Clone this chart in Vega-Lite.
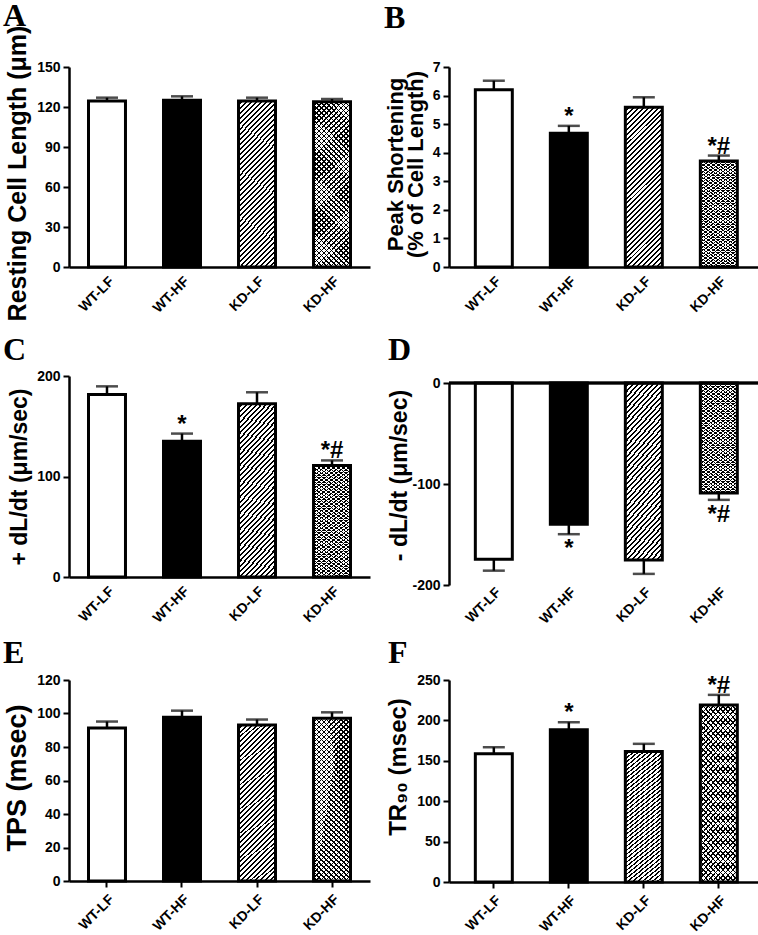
{
"$schema": "https://vega.github.io/schema/vega-lite/v6.json",
"background": "white",
"padding": {"left": 2, "top": 0, "right": 0, "bottom": 0},
"columns": 2,
"spacing": {"row": 95, "column": 79},
"bounds": "flush",
"datasets": {
"A": [{"group":"WT-LF","mean":124.5,"hi":127,"sig":""},{"group":"WT-HF","mean":125,"hi":128,"sig":""},{"group":"KD-LF","mean":124.5,"hi":127,"sig":""},{"group":"KD-HF","mean":124,"hi":126,"sig":""}],
"B": [{"group":"WT-LF","mean":6.2,"hi":6.52,"sig":""},{"group":"WT-HF","mean":4.68,"hi":4.94,"sig":"*"},{"group":"KD-LF","mean":5.59,"hi":5.94,"sig":""},{"group":"KD-HF","mean":3.71,"hi":3.9,"sig":"*#"}],
"C": [{"group":"WT-LF","mean":181.5,"hi":189.7,"sig":""},{"group":"WT-HF","mean":135,"hi":142.7,"sig":"*"},{"group":"KD-LF","mean":172.5,"hi":183.8,"sig":""},{"group":"KD-HF","mean":111,"hi":116,"sig":"*#"}],
"D": [{"group":"WT-LF","mean":-174.5,"hi":-185.8,"sig":""},{"group":"WT-HF","mean":-139.8,"hi":-149.7,"sig":"*"},{"group":"KD-LF","mean":-175.2,"hi":-189,"sig":""},{"group":"KD-HF","mean":-109,"hi":-115.7,"sig":"*#"}],
"E": [{"group":"WT-LF","mean":91.4,"hi":95.2,"sig":""},{"group":"WT-HF","mean":97.8,"hi":101.7,"sig":""},{"group":"KD-LF","mean":93.2,"hi":96.4,"sig":""},{"group":"KD-HF","mean":97.2,"hi":100.7,"sig":""}],
"F": [{"group":"WT-LF","mean":158.7,"hi":166.8,"sig":""},{"group":"WT-HF","mean":188.3,"hi":197.7,"sig":"*"},{"group":"KD-LF","mean":161.5,"hi":171,"sig":""},{"group":"KD-HF","mean":219.2,"hi":231.6,"sig":"*#"}]
},
"concat": [
{
"width": 301, "height": 200, "data": {"name": "A"},
"title": {"text": "A", "anchor": "start", "frame": "group", "dx": -66, "offset": -33, "baseline": "alphabetic", "font": "Liberation Serif", "fontSize": 32, "fontWeight": "bold", "color": "#000"},
"encoding": {
"x": {"field": "group", "type": "nominal", "scale": {"domain": ["WT-LF","WT-HF","KD-LF","KD-HF"], "paddingInner": 0.507, "paddingOuter": 0.26}, "axis": {"title": null, "ticks": false, "labelPadding": 7}},
"y": {"field": "mean", "type": "quantitative", "title": "Resting Cell Length (μm)", "scale": {"domain": [0,150], "nice": false}, "axis": {"values": [0,30,60,90,120,150], "titleX": -44, "titleY": 106, "titleFontSize": 25}}
},
"layer": [
{"mark": {"type": "bar", "strokeWidth": 0}, "encoding": {"fill": {"field": "group", "type": "nominal", "scale": {"domain": ["WT-LF","WT-HF","KD-LF","KD-HF"], "range": ["#ffffff","#000000","#ffffff","#ffffff"]}, "legend": null}}},
{"transform": [{"filter": "datum.group == 'KD-LF'"}], "mark": {"type": "bar", "style": "diag", "strokeWidth": 0}},
{"transform": [{"filter": "datum.group == 'KD-HF'"}], "mark": {"type": "bar", "style": "xa", "strokeWidth": 0}},
{"transform": [{"filter": "datum.group == 'KD-HF'"}], "mark": {"type": "bar", "style": "xb", "strokeWidth": 0}},
{"mark": {"type": "bar", "fillOpacity": 0, "stroke": "#000000", "strokeWidth": 3}},
{"mark": {"type": "rule", "strokeWidth": 2.5, "color": "#000000"}, "encoding": {"y2": {"field": "hi"}}},
{"mark": {"type": "tick", "size": 22, "thickness": 2.5, "color": "#000000"}, "encoding": {"y": {"field": "hi", "type": "quantitative", "title": "Resting Cell Length (μm)"}}},
{"transform": [{"filter": "datum.sig != ''"}], "mark": {"type": "text", "baseline": "top", "dy": -21, "fontSize": 24, "fontWeight": "bold", "color": "#000000"}, "encoding": {"y": {"field": "hi", "type": "quantitative", "title": "Resting Cell Length (μm)"}, "text": {"field": "sig"}}}
]
},
{
"width": 309, "height": 200, "data": {"name": "B"},
"title": {"text": "B", "anchor": "start", "frame": "group", "dx": -65, "offset": 0, "baseline": "alphabetic", "font": "Liberation Serif", "fontSize": 32, "fontWeight": "bold", "color": "#000"},
"encoding": {
"x": {"field": "group", "type": "nominal", "scale": {"domain": ["WT-LF","WT-HF","KD-LF","KD-HF"], "paddingInner": 0.507, "paddingOuter": 0.3135, "align": 0.56}, "axis": {"title": null, "ticks": false, "labelPadding": 7}},
"y": {"field": "mean", "type": "quantitative", "title": ["Peak Shortening", "(% of Cell Length)"], "scale": {"domain": [0,7], "nice": false}, "axis": {"values": [0,1,2,3,4,5,6,7], "titleX": -47, "titleY": 97, "titleFontSize": 22, "titleLineHeight": 20}}
},
"layer": [
{"mark": {"type": "bar", "strokeWidth": 0}, "encoding": {"fill": {"field": "group", "type": "nominal", "scale": {"domain": ["WT-LF","WT-HF","KD-LF","KD-HF"], "range": ["#ffffff","#000000","#ffffff","#ffffff"]}, "legend": null}}},
{"transform": [{"filter": "datum.group == 'KD-LF'"}], "mark": {"type": "bar", "style": "diag", "strokeWidth": 0}},
{"transform": [{"filter": "datum.group == 'KD-HF'"}], "mark": {"type": "bar", "style": "xa", "strokeWidth": 0}},
{"transform": [{"filter": "datum.group == 'KD-HF'"}], "mark": {"type": "bar", "style": "xb", "strokeWidth": 0}},
{"mark": {"type": "bar", "fillOpacity": 0, "stroke": "#000000", "strokeWidth": 3}},
{"mark": {"type": "rule", "strokeWidth": 2.5, "color": "#000000"}, "encoding": {"y2": {"field": "hi"}}},
{"mark": {"type": "tick", "size": 22, "thickness": 2.5, "color": "#000000"}, "encoding": {"y": {"field": "hi", "type": "quantitative", "title": ["Peak Shortening", "(% of Cell Length)"]}}},
{"transform": [{"filter": "datum.sig != ''"}], "mark": {"type": "text", "baseline": "top", "dy": -21, "fontSize": 24, "fontWeight": "bold", "color": "#000000"}, "encoding": {"y": {"field": "hi", "type": "quantitative", "title": ["Peak Shortening", "(% of Cell Length)"]}, "text": {"field": "sig"}}}
]
},
{
"width": 301, "height": 215, "data": {"name": "C"},
"title": {"text": "C", "anchor": "start", "frame": "group", "dx": -66, "offset": -30, "baseline": "alphabetic", "font": "Liberation Serif", "fontSize": 32, "fontWeight": "bold", "color": "#000"},
"encoding": {
"x": {"field": "group", "type": "nominal", "scale": {"domain": ["WT-LF","WT-HF","KD-LF","KD-HF"], "paddingInner": 0.507, "paddingOuter": 0.26}, "axis": {"title": null, "ticks": false, "labelPadding": 7}},
"y": {"field": "mean", "type": "quantitative", "title": "+ dL/dt (μm/sec)", "scale": {"domain": [0,200], "nice": false, "range": [215, 14]}, "axis": {"values": [0,100,200], "titleX": -43, "titleY": 114.5, "titleFontSize": 23}}
},
"layer": [
{"mark": {"type": "bar", "strokeWidth": 0}, "encoding": {"fill": {"field": "group", "type": "nominal", "scale": {"domain": ["WT-LF","WT-HF","KD-LF","KD-HF"], "range": ["#ffffff","#000000","#ffffff","#ffffff"]}, "legend": null}}},
{"transform": [{"filter": "datum.group == 'KD-LF'"}], "mark": {"type": "bar", "style": "diag", "strokeWidth": 0}},
{"transform": [{"filter": "datum.group == 'KD-HF'"}], "mark": {"type": "bar", "style": "xa", "strokeWidth": 0}},
{"transform": [{"filter": "datum.group == 'KD-HF'"}], "mark": {"type": "bar", "style": "xb", "strokeWidth": 0}},
{"mark": {"type": "bar", "fillOpacity": 0, "stroke": "#000000", "strokeWidth": 3}},
{"mark": {"type": "rule", "strokeWidth": 2.5, "color": "#000000"}, "encoding": {"y2": {"field": "hi"}}},
{"mark": {"type": "tick", "size": 22, "thickness": 2.5, "color": "#000000"}, "encoding": {"y": {"field": "hi", "type": "quantitative", "title": "+ dL/dt (μm/sec)"}}},
{"transform": [{"filter": "datum.sig != ''"}], "mark": {"type": "text", "baseline": "top", "dy": -21, "fontSize": 24, "fontWeight": "bold", "color": "#000000"}, "encoding": {"y": {"field": "hi", "type": "quantitative", "title": "+ dL/dt (μm/sec)"}, "text": {"field": "sig"}}}
]
},
{
"width": 309, "height": 223, "data": {"name": "D"},
"title": {"text": "D", "anchor": "start", "frame": "group", "dx": -61, "offset": -30, "baseline": "alphabetic", "font": "Liberation Serif", "fontSize": 32, "fontWeight": "bold", "color": "#000"},
"layer": [
{
"encoding": {
"x": {"field": "group", "type": "nominal", "scale": {"domain": ["WT-LF","WT-HF","KD-LF","KD-HF"], "paddingInner": 0.507, "paddingOuter": 0.3135, "align": 0.56}, "axis": {"title": null, "ticks": false, "domain": false, "labelPadding": 0}},
"y": {"field": "mean", "type": "quantitative", "title": "- dL/dt (μm/sec)", "scale": {"domain": [-200,0], "nice": false, "range": [223, 21]}, "axis": {"values": [0,-100,-200], "labelExpr": "'' + datum.value", "titleX": -43, "titleY": 113, "titleFontSize": 23}}
},
"layer": [
{"mark": {"type": "bar", "strokeWidth": 0}, "encoding": {"fill": {"field": "group", "type": "nominal", "scale": {"domain": ["WT-LF","WT-HF","KD-LF","KD-HF"], "range": ["#ffffff","#000000","#ffffff","#ffffff"]}, "legend": null}}},
{"transform": [{"filter": "datum.group == 'KD-LF'"}], "mark": {"type": "bar", "style": "diag", "strokeWidth": 0}},
{"transform": [{"filter": "datum.group == 'KD-HF'"}], "mark": {"type": "bar", "style": "xa", "strokeWidth": 0}},
{"transform": [{"filter": "datum.group == 'KD-HF'"}], "mark": {"type": "bar", "style": "xb", "strokeWidth": 0}},
{"mark": {"type": "bar", "fillOpacity": 0, "stroke": "#000000", "strokeWidth": 3}},
{"mark": {"type": "rule", "strokeWidth": 2.5, "color": "#000000"}, "encoding": {"y2": {"field": "hi"}}},
{"mark": {"type": "tick", "size": 22, "thickness": 2.5, "color": "#000000"}, "encoding": {"y": {"field": "hi", "type": "quantitative", "title": "- dL/dt (μm/sec)"}}},
{"transform": [{"filter": "datum.sig != ''"}], "mark": {"type": "text", "baseline": "top", "dy": 3, "fontSize": 24, "fontWeight": "bold", "color": "#000000"}, "encoding": {"y": {"field": "hi", "type": "quantitative", "title": "- dL/dt (μm/sec)"}, "text": {"field": "sig"}}}
]
},
{"mark": {"type": "rule", "strokeWidth": 2.5, "color": "#000000"}, "encoding": {"y": {"datum": 0, "type": "quantitative", "title": "- dL/dt (μm/sec)"}}}
]
},
{
"width": 301, "height": 201, "data": {"name": "E"},
"title": {"text": "E", "anchor": "start", "frame": "group", "dx": -66, "offset": -22, "baseline": "alphabetic", "font": "Liberation Serif", "fontSize": 32, "fontWeight": "bold", "color": "#000"},
"encoding": {
"x": {"field": "group", "type": "nominal", "scale": {"domain": ["WT-LF","WT-HF","KD-LF","KD-HF"], "paddingInner": 0.507, "paddingOuter": 0.26}, "axis": {"title": null, "ticks": true, "tickSize": 6, "labelPadding": 5}},
"y": {"field": "mean", "type": "quantitative", "title": "TPS (msec)", "scale": {"domain": [0,120], "nice": false}, "axis": {"values": [0,20,40,60,80,100,120], "titleX": -44, "titleY": 97.5, "titleFontSize": 27}}
},
"layer": [
{"mark": {"type": "bar", "strokeWidth": 0}, "encoding": {"fill": {"field": "group", "type": "nominal", "scale": {"domain": ["WT-LF","WT-HF","KD-LF","KD-HF"], "range": ["#ffffff","#000000","#ffffff","#ffffff"]}, "legend": null}}},
{"transform": [{"filter": "datum.group == 'KD-LF'"}], "mark": {"type": "bar", "style": "diag", "strokeWidth": 0}},
{"transform": [{"filter": "datum.group == 'KD-HF'"}], "mark": {"type": "bar", "style": "xa", "strokeWidth": 0}},
{"transform": [{"filter": "datum.group == 'KD-HF'"}], "mark": {"type": "bar", "style": "xb", "strokeWidth": 0}},
{"mark": {"type": "bar", "fillOpacity": 0, "stroke": "#000000", "strokeWidth": 3}},
{"mark": {"type": "rule", "strokeWidth": 2.5, "color": "#000000"}, "encoding": {"y2": {"field": "hi"}}},
{"mark": {"type": "tick", "size": 22, "thickness": 2.5, "color": "#000000"}, "encoding": {"y": {"field": "hi", "type": "quantitative", "title": "TPS (msec)"}}},
{"transform": [{"filter": "datum.sig != ''"}], "mark": {"type": "text", "baseline": "top", "dy": -21, "fontSize": 24, "fontWeight": "bold", "color": "#000000"}, "encoding": {"y": {"field": "hi", "type": "quantitative", "title": "TPS (msec)"}, "text": {"field": "sig"}}}
]
},
{
"width": 309, "height": 202, "data": {"name": "F"},
"title": {"text": "F", "anchor": "start", "frame": "group", "dx": -61, "offset": -22, "baseline": "alphabetic", "font": "Liberation Serif", "fontSize": 32, "fontWeight": "bold", "color": "#000"},
"encoding": {
"x": {"field": "group", "type": "nominal", "scale": {"domain": ["WT-LF","WT-HF","KD-LF","KD-HF"], "paddingInner": 0.507, "paddingOuter": 0.3135, "align": 0.56}, "axis": {"title": null, "ticks": true, "tickSize": 6, "labelPadding": 5}},
"y": {"field": "mean", "type": "quantitative", "title": "TR₉₀ (msec)", "scale": {"domain": [0,250], "nice": false}, "axis": {"values": [0,50,100,150,200,250], "titleX": -44, "titleY": 86.5, "titleFontSize": 24}}
},
"layer": [
{"mark": {"type": "bar", "strokeWidth": 0}, "encoding": {"fill": {"field": "group", "type": "nominal", "scale": {"domain": ["WT-LF","WT-HF","KD-LF","KD-HF"], "range": ["#ffffff","#000000","#ffffff","#ffffff"]}, "legend": null}}},
{"transform": [{"filter": "datum.group == 'KD-LF'"}], "mark": {"type": "bar", "style": "diag", "strokeWidth": 0}},
{"transform": [{"filter": "datum.group == 'KD-HF'"}], "mark": {"type": "bar", "style": "xa", "strokeWidth": 0}},
{"transform": [{"filter": "datum.group == 'KD-HF'"}], "mark": {"type": "bar", "style": "xb", "strokeWidth": 0}},
{"mark": {"type": "bar", "fillOpacity": 0, "stroke": "#000000", "strokeWidth": 3}},
{"mark": {"type": "rule", "strokeWidth": 2.5, "color": "#000000"}, "encoding": {"y2": {"field": "hi"}}},
{"mark": {"type": "tick", "size": 22, "thickness": 2.5, "color": "#000000"}, "encoding": {"y": {"field": "hi", "type": "quantitative", "title": "TR₉₀ (msec)"}}},
{"transform": [{"filter": "datum.sig != ''"}], "mark": {"type": "text", "baseline": "top", "dy": -21, "fontSize": 24, "fontWeight": "bold", "color": "#000000"}, "encoding": {"y": {"field": "hi", "type": "quantitative", "title": "TR₉₀ (msec)"}, "text": {"field": "sig"}}}
]
}
],
"config": {
"view": {"stroke": null},
"font": "Liberation Sans",
"axis": {"labelFont": "Liberation Sans", "labelFontWeight": "bold", "labelFontSize": 14, "labelColor": "#000000", "titleFont": "Liberation Sans", "titleFontWeight": "bold", "titleColor": "#000000", "titleBaseline": "alphabetic", "domainColor": "#000000", "domainWidth": 2.5, "tickColor": "#000000", "tickWidth": 2, "tickSize": 6, "grid": false, "labelPadding": 3},
"axisX": {"labelAngle": -45, "labelAlign": "right", "labelBaseline": "top"},
"style": {
"diag": {"color": {"gradient": "linear", "x1": 0, "y1": 0, "x2": 0.27, "y2": 1.169, "stops": [
{"offset":0,"color":"#fff"},{"offset":0.015,"color":"#fff"},{"offset":0.015,"color":"#000"},{"offset":0.025,"color":"#000"},
{"offset":0.025,"color":"#fff"},{"offset":0.04,"color":"#fff"},{"offset":0.04,"color":"#000"},{"offset":0.05,"color":"#000"},
{"offset":0.05,"color":"#fff"},{"offset":0.065,"color":"#fff"},{"offset":0.065,"color":"#000"},{"offset":0.075,"color":"#000"},
{"offset":0.075,"color":"#fff"},{"offset":0.09,"color":"#fff"},{"offset":0.09,"color":"#000"},{"offset":0.1,"color":"#000"},
{"offset":0.1,"color":"#fff"},{"offset":0.115,"color":"#fff"},{"offset":0.115,"color":"#000"},{"offset":0.125,"color":"#000"},
{"offset":0.125,"color":"#fff"},{"offset":0.14,"color":"#fff"},{"offset":0.14,"color":"#000"},{"offset":0.15,"color":"#000"},
{"offset":0.15,"color":"#fff"},{"offset":0.165,"color":"#fff"},{"offset":0.165,"color":"#000"},{"offset":0.175,"color":"#000"},
{"offset":0.175,"color":"#fff"},{"offset":0.19,"color":"#fff"},{"offset":0.19,"color":"#000"},{"offset":0.2,"color":"#000"},
{"offset":0.2,"color":"#fff"},{"offset":0.215,"color":"#fff"},{"offset":0.215,"color":"#000"},{"offset":0.225,"color":"#000"},
{"offset":0.225,"color":"#fff"},{"offset":0.24,"color":"#fff"},{"offset":0.24,"color":"#000"},{"offset":0.25,"color":"#000"},
{"offset":0.25,"color":"#fff"},{"offset":0.265,"color":"#fff"},{"offset":0.265,"color":"#000"},{"offset":0.275,"color":"#000"},
{"offset":0.275,"color":"#fff"},{"offset":0.29,"color":"#fff"},{"offset":0.29,"color":"#000"},{"offset":0.3,"color":"#000"},
{"offset":0.3,"color":"#fff"},{"offset":0.315,"color":"#fff"},{"offset":0.315,"color":"#000"},{"offset":0.325,"color":"#000"},
{"offset":0.325,"color":"#fff"},{"offset":0.34,"color":"#fff"},{"offset":0.34,"color":"#000"},{"offset":0.35,"color":"#000"},
{"offset":0.35,"color":"#fff"},{"offset":0.365,"color":"#fff"},{"offset":0.365,"color":"#000"},{"offset":0.375,"color":"#000"},
{"offset":0.375,"color":"#fff"},{"offset":0.39,"color":"#fff"},{"offset":0.39,"color":"#000"},{"offset":0.4,"color":"#000"},
{"offset":0.4,"color":"#fff"},{"offset":0.415,"color":"#fff"},{"offset":0.415,"color":"#000"},{"offset":0.425,"color":"#000"},
{"offset":0.425,"color":"#fff"},{"offset":0.44,"color":"#fff"},{"offset":0.44,"color":"#000"},{"offset":0.45,"color":"#000"},
{"offset":0.45,"color":"#fff"},{"offset":0.465,"color":"#fff"},{"offset":0.465,"color":"#000"},{"offset":0.475,"color":"#000"},
{"offset":0.475,"color":"#fff"},{"offset":0.49,"color":"#fff"},{"offset":0.49,"color":"#000"},{"offset":0.5,"color":"#000"},
{"offset":0.5,"color":"#fff"},{"offset":0.515,"color":"#fff"},{"offset":0.515,"color":"#000"},{"offset":0.525,"color":"#000"},
{"offset":0.525,"color":"#fff"},{"offset":0.54,"color":"#fff"},{"offset":0.54,"color":"#000"},{"offset":0.55,"color":"#000"},
{"offset":0.55,"color":"#fff"},{"offset":0.565,"color":"#fff"},{"offset":0.565,"color":"#000"},{"offset":0.575,"color":"#000"},
{"offset":0.575,"color":"#fff"},{"offset":0.59,"color":"#fff"},{"offset":0.59,"color":"#000"},{"offset":0.6,"color":"#000"},
{"offset":0.6,"color":"#fff"},{"offset":0.615,"color":"#fff"},{"offset":0.615,"color":"#000"},{"offset":0.625,"color":"#000"},
{"offset":0.625,"color":"#fff"},{"offset":0.64,"color":"#fff"},{"offset":0.64,"color":"#000"},{"offset":0.65,"color":"#000"},
{"offset":0.65,"color":"#fff"},{"offset":0.665,"color":"#fff"},{"offset":0.665,"color":"#000"},{"offset":0.675,"color":"#000"},
{"offset":0.675,"color":"#fff"},{"offset":0.69,"color":"#fff"},{"offset":0.69,"color":"#000"},{"offset":0.7,"color":"#000"},
{"offset":0.7,"color":"#fff"},{"offset":0.715,"color":"#fff"},{"offset":0.715,"color":"#000"},{"offset":0.725,"color":"#000"},
{"offset":0.725,"color":"#fff"},{"offset":0.74,"color":"#fff"},{"offset":0.74,"color":"#000"},{"offset":0.75,"color":"#000"},
{"offset":0.75,"color":"#fff"},{"offset":0.765,"color":"#fff"},{"offset":0.765,"color":"#000"},{"offset":0.775,"color":"#000"},
{"offset":0.775,"color":"#fff"},{"offset":0.79,"color":"#fff"},{"offset":0.79,"color":"#000"},{"offset":0.8,"color":"#000"},
{"offset":0.8,"color":"#fff"},{"offset":0.815,"color":"#fff"},{"offset":0.815,"color":"#000"},{"offset":0.825,"color":"#000"},
{"offset":0.825,"color":"#fff"},{"offset":0.84,"color":"#fff"},{"offset":0.84,"color":"#000"},{"offset":0.85,"color":"#000"},
{"offset":0.85,"color":"#fff"},{"offset":0.865,"color":"#fff"},{"offset":0.865,"color":"#000"},{"offset":0.875,"color":"#000"},
{"offset":0.875,"color":"#fff"},{"offset":0.89,"color":"#fff"},{"offset":0.89,"color":"#000"},{"offset":0.9,"color":"#000"},
{"offset":0.9,"color":"#fff"},{"offset":0.915,"color":"#fff"},{"offset":0.915,"color":"#000"},{"offset":0.925,"color":"#000"},
{"offset":0.925,"color":"#fff"},{"offset":0.94,"color":"#fff"},{"offset":0.94,"color":"#000"},{"offset":0.95,"color":"#000"},
{"offset":0.95,"color":"#fff"},{"offset":0.965,"color":"#fff"},{"offset":0.965,"color":"#000"},{"offset":0.975,"color":"#000"},
{"offset":0.975,"color":"#fff"},{"offset":0.99,"color":"#fff"},{"offset":0.99,"color":"#000"},{"offset":1,"color":"#000"}
]}},
"xa": {"color": {"gradient": "linear", "x1": 0, "y1": 0, "x2": 0.27, "y2": 1.169, "stops": [
{"offset":0,"color":"rgba(0,0,0,0)"},{"offset":0.0175,"color":"rgba(0,0,0,0)"},{"offset":0.0175,"color":"#000"},{"offset":0.025,"color":"#000"},
{"offset":0.025,"color":"rgba(0,0,0,0)"},{"offset":0.0425,"color":"rgba(0,0,0,0)"},{"offset":0.0425,"color":"#000"},{"offset":0.05,"color":"#000"},
{"offset":0.05,"color":"rgba(0,0,0,0)"},{"offset":0.0675,"color":"rgba(0,0,0,0)"},{"offset":0.0675,"color":"#000"},{"offset":0.075,"color":"#000"},
{"offset":0.075,"color":"rgba(0,0,0,0)"},{"offset":0.0925,"color":"rgba(0,0,0,0)"},{"offset":0.0925,"color":"#000"},{"offset":0.1,"color":"#000"},
{"offset":0.1,"color":"rgba(0,0,0,0)"},{"offset":0.1175,"color":"rgba(0,0,0,0)"},{"offset":0.1175,"color":"#000"},{"offset":0.125,"color":"#000"},
{"offset":0.125,"color":"rgba(0,0,0,0)"},{"offset":0.1425,"color":"rgba(0,0,0,0)"},{"offset":0.1425,"color":"#000"},{"offset":0.15,"color":"#000"},
{"offset":0.15,"color":"rgba(0,0,0,0)"},{"offset":0.1675,"color":"rgba(0,0,0,0)"},{"offset":0.1675,"color":"#000"},{"offset":0.175,"color":"#000"},
{"offset":0.175,"color":"rgba(0,0,0,0)"},{"offset":0.1925,"color":"rgba(0,0,0,0)"},{"offset":0.1925,"color":"#000"},{"offset":0.2,"color":"#000"},
{"offset":0.2,"color":"rgba(0,0,0,0)"},{"offset":0.2175,"color":"rgba(0,0,0,0)"},{"offset":0.2175,"color":"#000"},{"offset":0.225,"color":"#000"},
{"offset":0.225,"color":"rgba(0,0,0,0)"},{"offset":0.2425,"color":"rgba(0,0,0,0)"},{"offset":0.2425,"color":"#000"},{"offset":0.25,"color":"#000"},
{"offset":0.25,"color":"rgba(0,0,0,0)"},{"offset":0.2675,"color":"rgba(0,0,0,0)"},{"offset":0.2675,"color":"#000"},{"offset":0.275,"color":"#000"},
{"offset":0.275,"color":"rgba(0,0,0,0)"},{"offset":0.2925,"color":"rgba(0,0,0,0)"},{"offset":0.2925,"color":"#000"},{"offset":0.3,"color":"#000"},
{"offset":0.3,"color":"rgba(0,0,0,0)"},{"offset":0.3175,"color":"rgba(0,0,0,0)"},{"offset":0.3175,"color":"#000"},{"offset":0.325,"color":"#000"},
{"offset":0.325,"color":"rgba(0,0,0,0)"},{"offset":0.3425,"color":"rgba(0,0,0,0)"},{"offset":0.3425,"color":"#000"},{"offset":0.35,"color":"#000"},
{"offset":0.35,"color":"rgba(0,0,0,0)"},{"offset":0.3675,"color":"rgba(0,0,0,0)"},{"offset":0.3675,"color":"#000"},{"offset":0.375,"color":"#000"},
{"offset":0.375,"color":"rgba(0,0,0,0)"},{"offset":0.3925,"color":"rgba(0,0,0,0)"},{"offset":0.3925,"color":"#000"},{"offset":0.4,"color":"#000"},
{"offset":0.4,"color":"rgba(0,0,0,0)"},{"offset":0.4175,"color":"rgba(0,0,0,0)"},{"offset":0.4175,"color":"#000"},{"offset":0.425,"color":"#000"},
{"offset":0.425,"color":"rgba(0,0,0,0)"},{"offset":0.4425,"color":"rgba(0,0,0,0)"},{"offset":0.4425,"color":"#000"},{"offset":0.45,"color":"#000"},
{"offset":0.45,"color":"rgba(0,0,0,0)"},{"offset":0.4675,"color":"rgba(0,0,0,0)"},{"offset":0.4675,"color":"#000"},{"offset":0.475,"color":"#000"},
{"offset":0.475,"color":"rgba(0,0,0,0)"},{"offset":0.4925,"color":"rgba(0,0,0,0)"},{"offset":0.4925,"color":"#000"},{"offset":0.5,"color":"#000"},
{"offset":0.5,"color":"rgba(0,0,0,0)"},{"offset":0.5175,"color":"rgba(0,0,0,0)"},{"offset":0.5175,"color":"#000"},{"offset":0.525,"color":"#000"},
{"offset":0.525,"color":"rgba(0,0,0,0)"},{"offset":0.5425,"color":"rgba(0,0,0,0)"},{"offset":0.5425,"color":"#000"},{"offset":0.55,"color":"#000"},
{"offset":0.55,"color":"rgba(0,0,0,0)"},{"offset":0.5675,"color":"rgba(0,0,0,0)"},{"offset":0.5675,"color":"#000"},{"offset":0.575,"color":"#000"},
{"offset":0.575,"color":"rgba(0,0,0,0)"},{"offset":0.5925,"color":"rgba(0,0,0,0)"},{"offset":0.5925,"color":"#000"},{"offset":0.6,"color":"#000"},
{"offset":0.6,"color":"rgba(0,0,0,0)"},{"offset":0.6175,"color":"rgba(0,0,0,0)"},{"offset":0.6175,"color":"#000"},{"offset":0.625,"color":"#000"},
{"offset":0.625,"color":"rgba(0,0,0,0)"},{"offset":0.6425,"color":"rgba(0,0,0,0)"},{"offset":0.6425,"color":"#000"},{"offset":0.65,"color":"#000"},
{"offset":0.65,"color":"rgba(0,0,0,0)"},{"offset":0.6675,"color":"rgba(0,0,0,0)"},{"offset":0.6675,"color":"#000"},{"offset":0.675,"color":"#000"},
{"offset":0.675,"color":"rgba(0,0,0,0)"},{"offset":0.6925,"color":"rgba(0,0,0,0)"},{"offset":0.6925,"color":"#000"},{"offset":0.7,"color":"#000"},
{"offset":0.7,"color":"rgba(0,0,0,0)"},{"offset":0.7175,"color":"rgba(0,0,0,0)"},{"offset":0.7175,"color":"#000"},{"offset":0.725,"color":"#000"},
{"offset":0.725,"color":"rgba(0,0,0,0)"},{"offset":0.7425,"color":"rgba(0,0,0,0)"},{"offset":0.7425,"color":"#000"},{"offset":0.75,"color":"#000"},
{"offset":0.75,"color":"rgba(0,0,0,0)"},{"offset":0.7675,"color":"rgba(0,0,0,0)"},{"offset":0.7675,"color":"#000"},{"offset":0.775,"color":"#000"},
{"offset":0.775,"color":"rgba(0,0,0,0)"},{"offset":0.7925,"color":"rgba(0,0,0,0)"},{"offset":0.7925,"color":"#000"},{"offset":0.8,"color":"#000"},
{"offset":0.8,"color":"rgba(0,0,0,0)"},{"offset":0.8175,"color":"rgba(0,0,0,0)"},{"offset":0.8175,"color":"#000"},{"offset":0.825,"color":"#000"},
{"offset":0.825,"color":"rgba(0,0,0,0)"},{"offset":0.8425,"color":"rgba(0,0,0,0)"},{"offset":0.8425,"color":"#000"},{"offset":0.85,"color":"#000"},
{"offset":0.85,"color":"rgba(0,0,0,0)"},{"offset":0.8675,"color":"rgba(0,0,0,0)"},{"offset":0.8675,"color":"#000"},{"offset":0.875,"color":"#000"},
{"offset":0.875,"color":"rgba(0,0,0,0)"},{"offset":0.8925,"color":"rgba(0,0,0,0)"},{"offset":0.8925,"color":"#000"},{"offset":0.9,"color":"#000"},
{"offset":0.9,"color":"rgba(0,0,0,0)"},{"offset":0.9175,"color":"rgba(0,0,0,0)"},{"offset":0.9175,"color":"#000"},{"offset":0.925,"color":"#000"},
{"offset":0.925,"color":"rgba(0,0,0,0)"},{"offset":0.9425,"color":"rgba(0,0,0,0)"},{"offset":0.9425,"color":"#000"},{"offset":0.95,"color":"#000"},
{"offset":0.95,"color":"rgba(0,0,0,0)"},{"offset":0.9675,"color":"rgba(0,0,0,0)"},{"offset":0.9675,"color":"#000"},{"offset":0.975,"color":"#000"},
{"offset":0.975,"color":"rgba(0,0,0,0)"},{"offset":0.9925,"color":"rgba(0,0,0,0)"},{"offset":0.9925,"color":"#000"},{"offset":1,"color":"#000"}
]}},
"xb": {"color": {"gradient": "linear", "x1": 0, "y1": 1, "x2": 0.27, "y2": -0.169, "stops": [
{"offset":0,"color":"rgba(0,0,0,0)"},{"offset":0.0175,"color":"rgba(0,0,0,0)"},{"offset":0.0175,"color":"#000"},{"offset":0.025,"color":"#000"},
{"offset":0.025,"color":"rgba(0,0,0,0)"},{"offset":0.0425,"color":"rgba(0,0,0,0)"},{"offset":0.0425,"color":"#000"},{"offset":0.05,"color":"#000"},
{"offset":0.05,"color":"rgba(0,0,0,0)"},{"offset":0.0675,"color":"rgba(0,0,0,0)"},{"offset":0.0675,"color":"#000"},{"offset":0.075,"color":"#000"},
{"offset":0.075,"color":"rgba(0,0,0,0)"},{"offset":0.0925,"color":"rgba(0,0,0,0)"},{"offset":0.0925,"color":"#000"},{"offset":0.1,"color":"#000"},
{"offset":0.1,"color":"rgba(0,0,0,0)"},{"offset":0.1175,"color":"rgba(0,0,0,0)"},{"offset":0.1175,"color":"#000"},{"offset":0.125,"color":"#000"},
{"offset":0.125,"color":"rgba(0,0,0,0)"},{"offset":0.1425,"color":"rgba(0,0,0,0)"},{"offset":0.1425,"color":"#000"},{"offset":0.15,"color":"#000"},
{"offset":0.15,"color":"rgba(0,0,0,0)"},{"offset":0.1675,"color":"rgba(0,0,0,0)"},{"offset":0.1675,"color":"#000"},{"offset":0.175,"color":"#000"},
{"offset":0.175,"color":"rgba(0,0,0,0)"},{"offset":0.1925,"color":"rgba(0,0,0,0)"},{"offset":0.1925,"color":"#000"},{"offset":0.2,"color":"#000"},
{"offset":0.2,"color":"rgba(0,0,0,0)"},{"offset":0.2175,"color":"rgba(0,0,0,0)"},{"offset":0.2175,"color":"#000"},{"offset":0.225,"color":"#000"},
{"offset":0.225,"color":"rgba(0,0,0,0)"},{"offset":0.2425,"color":"rgba(0,0,0,0)"},{"offset":0.2425,"color":"#000"},{"offset":0.25,"color":"#000"},
{"offset":0.25,"color":"rgba(0,0,0,0)"},{"offset":0.2675,"color":"rgba(0,0,0,0)"},{"offset":0.2675,"color":"#000"},{"offset":0.275,"color":"#000"},
{"offset":0.275,"color":"rgba(0,0,0,0)"},{"offset":0.2925,"color":"rgba(0,0,0,0)"},{"offset":0.2925,"color":"#000"},{"offset":0.3,"color":"#000"},
{"offset":0.3,"color":"rgba(0,0,0,0)"},{"offset":0.3175,"color":"rgba(0,0,0,0)"},{"offset":0.3175,"color":"#000"},{"offset":0.325,"color":"#000"},
{"offset":0.325,"color":"rgba(0,0,0,0)"},{"offset":0.3425,"color":"rgba(0,0,0,0)"},{"offset":0.3425,"color":"#000"},{"offset":0.35,"color":"#000"},
{"offset":0.35,"color":"rgba(0,0,0,0)"},{"offset":0.3675,"color":"rgba(0,0,0,0)"},{"offset":0.3675,"color":"#000"},{"offset":0.375,"color":"#000"},
{"offset":0.375,"color":"rgba(0,0,0,0)"},{"offset":0.3925,"color":"rgba(0,0,0,0)"},{"offset":0.3925,"color":"#000"},{"offset":0.4,"color":"#000"},
{"offset":0.4,"color":"rgba(0,0,0,0)"},{"offset":0.4175,"color":"rgba(0,0,0,0)"},{"offset":0.4175,"color":"#000"},{"offset":0.425,"color":"#000"},
{"offset":0.425,"color":"rgba(0,0,0,0)"},{"offset":0.4425,"color":"rgba(0,0,0,0)"},{"offset":0.4425,"color":"#000"},{"offset":0.45,"color":"#000"},
{"offset":0.45,"color":"rgba(0,0,0,0)"},{"offset":0.4675,"color":"rgba(0,0,0,0)"},{"offset":0.4675,"color":"#000"},{"offset":0.475,"color":"#000"},
{"offset":0.475,"color":"rgba(0,0,0,0)"},{"offset":0.4925,"color":"rgba(0,0,0,0)"},{"offset":0.4925,"color":"#000"},{"offset":0.5,"color":"#000"},
{"offset":0.5,"color":"rgba(0,0,0,0)"},{"offset":0.5175,"color":"rgba(0,0,0,0)"},{"offset":0.5175,"color":"#000"},{"offset":0.525,"color":"#000"},
{"offset":0.525,"color":"rgba(0,0,0,0)"},{"offset":0.5425,"color":"rgba(0,0,0,0)"},{"offset":0.5425,"color":"#000"},{"offset":0.55,"color":"#000"},
{"offset":0.55,"color":"rgba(0,0,0,0)"},{"offset":0.5675,"color":"rgba(0,0,0,0)"},{"offset":0.5675,"color":"#000"},{"offset":0.575,"color":"#000"},
{"offset":0.575,"color":"rgba(0,0,0,0)"},{"offset":0.5925,"color":"rgba(0,0,0,0)"},{"offset":0.5925,"color":"#000"},{"offset":0.6,"color":"#000"},
{"offset":0.6,"color":"rgba(0,0,0,0)"},{"offset":0.6175,"color":"rgba(0,0,0,0)"},{"offset":0.6175,"color":"#000"},{"offset":0.625,"color":"#000"},
{"offset":0.625,"color":"rgba(0,0,0,0)"},{"offset":0.6425,"color":"rgba(0,0,0,0)"},{"offset":0.6425,"color":"#000"},{"offset":0.65,"color":"#000"},
{"offset":0.65,"color":"rgba(0,0,0,0)"},{"offset":0.6675,"color":"rgba(0,0,0,0)"},{"offset":0.6675,"color":"#000"},{"offset":0.675,"color":"#000"},
{"offset":0.675,"color":"rgba(0,0,0,0)"},{"offset":0.6925,"color":"rgba(0,0,0,0)"},{"offset":0.6925,"color":"#000"},{"offset":0.7,"color":"#000"},
{"offset":0.7,"color":"rgba(0,0,0,0)"},{"offset":0.7175,"color":"rgba(0,0,0,0)"},{"offset":0.7175,"color":"#000"},{"offset":0.725,"color":"#000"},
{"offset":0.725,"color":"rgba(0,0,0,0)"},{"offset":0.7425,"color":"rgba(0,0,0,0)"},{"offset":0.7425,"color":"#000"},{"offset":0.75,"color":"#000"},
{"offset":0.75,"color":"rgba(0,0,0,0)"},{"offset":0.7675,"color":"rgba(0,0,0,0)"},{"offset":0.7675,"color":"#000"},{"offset":0.775,"color":"#000"},
{"offset":0.775,"color":"rgba(0,0,0,0)"},{"offset":0.7925,"color":"rgba(0,0,0,0)"},{"offset":0.7925,"color":"#000"},{"offset":0.8,"color":"#000"},
{"offset":0.8,"color":"rgba(0,0,0,0)"},{"offset":0.8175,"color":"rgba(0,0,0,0)"},{"offset":0.8175,"color":"#000"},{"offset":0.825,"color":"#000"},
{"offset":0.825,"color":"rgba(0,0,0,0)"},{"offset":0.8425,"color":"rgba(0,0,0,0)"},{"offset":0.8425,"color":"#000"},{"offset":0.85,"color":"#000"},
{"offset":0.85,"color":"rgba(0,0,0,0)"},{"offset":0.8675,"color":"rgba(0,0,0,0)"},{"offset":0.8675,"color":"#000"},{"offset":0.875,"color":"#000"},
{"offset":0.875,"color":"rgba(0,0,0,0)"},{"offset":0.8925,"color":"rgba(0,0,0,0)"},{"offset":0.8925,"color":"#000"},{"offset":0.9,"color":"#000"},
{"offset":0.9,"color":"rgba(0,0,0,0)"},{"offset":0.9175,"color":"rgba(0,0,0,0)"},{"offset":0.9175,"color":"#000"},{"offset":0.925,"color":"#000"},
{"offset":0.925,"color":"rgba(0,0,0,0)"},{"offset":0.9425,"color":"rgba(0,0,0,0)"},{"offset":0.9425,"color":"#000"},{"offset":0.95,"color":"#000"},
{"offset":0.95,"color":"rgba(0,0,0,0)"},{"offset":0.9675,"color":"rgba(0,0,0,0)"},{"offset":0.9675,"color":"#000"},{"offset":0.975,"color":"#000"},
{"offset":0.975,"color":"rgba(0,0,0,0)"},{"offset":0.9925,"color":"rgba(0,0,0,0)"},{"offset":0.9925,"color":"#000"},{"offset":1,"color":"#000"}
]}}
}
}
}
